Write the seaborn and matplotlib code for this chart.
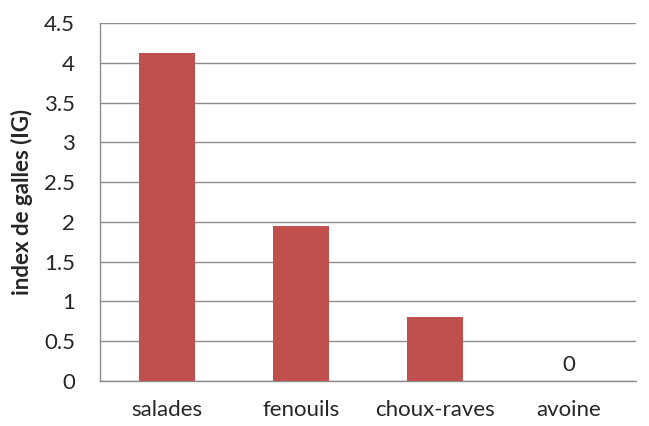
import matplotlib
matplotlib.use('Agg')
import matplotlib.pyplot as plt
import numpy as np
import seaborn as sns

# data
cultures = ['salades', 'fenouils', 'choux-raves', 'avoine']
index_galles = [4.12, 1.95, 0.80, 0.0]
y_ticks = [0, 0.5, 1, 1.5, 2, 2.5, 3, 3.5, 4, 4.5]

sns.set_style('white')
plt.rcParams['font.family'] = ['Lato', 'DejaVu Sans']

fig = plt.figure(figsize=(6.49, 4.26), dpi=100)
ax = fig.add_axes([100/649, 45/426, 536/649, 358/426])

sns.barplot(x=cultures, y=index_galles, color='#C0504D', saturation=1,
            width=0.42, ax=ax, zorder=3, linewidth=0)

ax.set_ylim(0, 4.5)
ax.set_xlim(-0.5, 3.5)
ax.set_yticks(y_ticks)
ax.set_yticklabels(['0', '0.5', '1', '1.5', '2', '2.5', '3', '3.5', '4', '4.5'])
ax.yaxis.grid(True, color='#8c8c8c', linewidth=1, zorder=0)
ax.set_axisbelow(True)

# ticks between categories
ax.set_xticks(np.arange(len(cultures)))
ax.set_xticklabels(cultures)
ax.set_xticks(np.arange(-0.5, len(cultures)), minor=True)
ax.tick_params(axis='x', which='major', length=0, pad=14, labelsize=16)
ax.tick_params(axis='x', which='minor', length=6, color='#8c8c8c', width=1, direction='out')
ax.tick_params(axis='y', length=6, color='#8c8c8c', width=1, direction='out', labelsize=16, pad=12)

for s in ['top', 'right']:
    ax.spines[s].set_visible(False)
for s in ['left', 'bottom']:
    ax.spines[s].set_color('#8c8c8c')
    ax.spines[s].set_linewidth(1)

ax.set_ylabel('index de galles (IG)', fontsize=16, fontweight='bold', labelpad=8)

# label for the zero bar
ax.text(3, 0.07, '0', ha='center', va='bottom', fontsize=16)

fig.savefig('out.png', dpi=100)
